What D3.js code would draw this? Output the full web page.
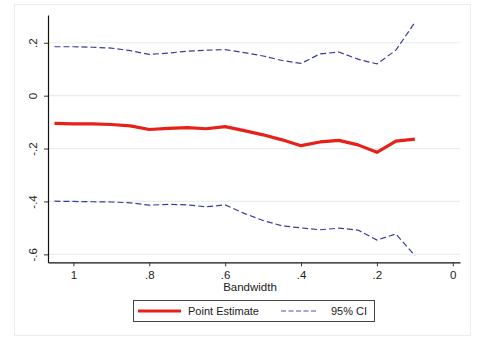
<!DOCTYPE html>
<html>
<head>
<meta charset="utf-8">
<script src="https://cdn.jsdelivr.net/npm/d3@7"></script>
<style>
  html, body { margin: 0; padding: 0; background: #ffffff; }
  svg { display: block; }
  text { font-family: "Liberation Sans", Arial, sans-serif; fill: #222; }
</style>
</head>
<body>
<script>
// Bandwidths (x) and estimates with 95% confidence bounds
const bandwidth = [1.05, 1.0, 0.95, 0.9, 0.85, 0.8, 0.75, 0.7, 0.65, 0.6,
                   0.55, 0.5, 0.45, 0.4, 0.35, 0.3, 0.25, 0.2, 0.15, 0.1];
const pointEstimate = [-0.105, -0.107, -0.107, -0.109, -0.114, -0.128, -0.124, -0.121, -0.125, -0.117,
                       -0.132, -0.148, -0.167, -0.189, -0.175, -0.169, -0.186, -0.214, -0.172, -0.164];
const ciUpper = [0.185, 0.185, 0.183, 0.180, 0.170, 0.156, 0.161, 0.168, 0.172, 0.174,
                 0.163, 0.150, 0.133, 0.122, 0.158, 0.165, 0.138, 0.120, 0.172, 0.277];
const ciLower = [-0.399, -0.400, -0.401, -0.402, -0.405, -0.414, -0.411, -0.413, -0.420, -0.413,
                 -0.445, -0.472, -0.492, -0.500, -0.507, -0.501, -0.508, -0.546, -0.523, -0.605];
const xTicks = [1, 0.8, 0.6, 0.4, 0.2, 0];
const xTickLabels = ["1", ".8", ".6", ".4", ".2", "0"];
const yTicks = [0.2, 0, -0.2, -0.4, -0.6];
const yTickLabels = [".2", "0", "-.2", "-.4", "-.6"];

const W = 479, H = 337;
const svg = d3.select("body").append("svg").attr("width", W).attr("height", H);

// outer graph frame
svg.append("rect").attr("x", 14.5).attr("y", 4.5).attr("width", 456).attr("height", 331)
  .attr("fill", "#ffffff").attr("stroke", "#e8eeee").attr("stroke-width", 1);

const plotL = 48, plotR = 460, plotT = 15, plotB = 262.3;
const x = d3.scaleLinear().domain([1.067, -0.019]).range([plotL, plotR]);
const y = d3.scaleLinear().domain([-0.63, 0.305]).range([plotB, plotT]);

// horizontal gridlines
svg.append("g").selectAll("line").data(yTicks).join("line")
  .attr("x1", plotL).attr("x2", plotR)
  .attr("y1", d => y(d)).attr("y2", d => y(d))
  .attr("stroke", "#e6eeee").attr("stroke-width", 1.2);

// y axis
const yAxis = d3.axisLeft(y).tickValues(yTicks).tickSize(4).tickSizeOuter(0)
  .tickFormat((d, i) => yTickLabels[i]);
const gy = svg.append("g").attr("transform", `translate(${plotL},0)`).call(yAxis);
gy.select(".domain").attr("stroke", "#111").attr("stroke-width", 1.2);
gy.selectAll(".tick line").attr("stroke", "#333");
gy.selectAll(".tick text")
  .attr("x", null).attr("dy", null)
  .attr("transform", "translate(-15,0) rotate(-90)")
  .attr("text-anchor", "middle")
  .attr("dominant-baseline", "central")
  .style("font-size", "11.5px")
  .style("font-family", "Liberation Sans, Arial, sans-serif")
  .attr("fill", "#222");

// x axis
const xAxis = d3.axisBottom(x).tickValues(xTicks).tickSize(4).tickSizeOuter(0)
  .tickFormat((d, i) => xTickLabels[i]);
const gx = svg.append("g").attr("transform", `translate(0,${plotB})`).call(xAxis);
gx.select(".domain").attr("stroke", "#111").attr("stroke-width", 1.2);
gx.selectAll(".tick line").attr("stroke", "#333");
gx.selectAll(".tick text")
  .attr("y", 9).attr("dy", "0.71em")
  .style("font-size", "11.5px")
  .style("font-family", "Liberation Sans, Arial, sans-serif")
  .attr("fill", "#222");

svg.append("text").attr("x", (plotL + plotR) / 2 - 4).attr("y", 291)
  .attr("text-anchor", "middle").style("font-size", "11.5px").text("Bandwidth");

// series lines
const idx = d3.range(bandwidth.length);
const lineOf = arr => d3.line().x(i => x(bandwidth[i])).y(i => y(arr[i]))(idx);

svg.append("path").attr("d", lineOf(ciUpper))
  .attr("fill", "none").attr("stroke", "#3a3aa0").attr("stroke-width", 1.2)
  .attr("stroke-dasharray", "6,3");
svg.append("path").attr("d", lineOf(ciLower))
  .attr("fill", "none").attr("stroke", "#3a3aa0").attr("stroke-width", 1.2)
  .attr("stroke-dasharray", "6,3");
svg.append("path").attr("d", lineOf(pointEstimate))
  .attr("fill", "none").attr("stroke", "#e8201a").attr("stroke-width", 3.2)
  .attr("stroke-linejoin", "round").attr("stroke-linecap", "butt");

// legend
const lg = svg.append("g");
lg.append("rect").attr("x", 133.5).attr("y", 300.5).attr("width", 241).attr("height", 21)
  .attr("fill", "#fff").attr("stroke", "#444").attr("stroke-width", 1);
lg.append("line").attr("x1", 138).attr("x2", 181).attr("y1", 311).attr("y2", 311)
  .attr("stroke", "#e8201a").attr("stroke-width", 3.2);
lg.append("text").attr("x", 188).attr("y", 311).attr("dominant-baseline", "central")
  .style("font-size", "11px").text("Point Estimate");
lg.append("line").attr("x1", 281).attr("x2", 316).attr("y1", 311).attr("y2", 311)
  .attr("stroke", "#5050b0").attr("stroke-width", 1.2).attr("stroke-dasharray", "5,2.5");
lg.append("text").attr("x", 331).attr("y", 311).attr("dominant-baseline", "central")
  .style("font-size", "11px").text("95% CI");
</script>
</body>
</html>
